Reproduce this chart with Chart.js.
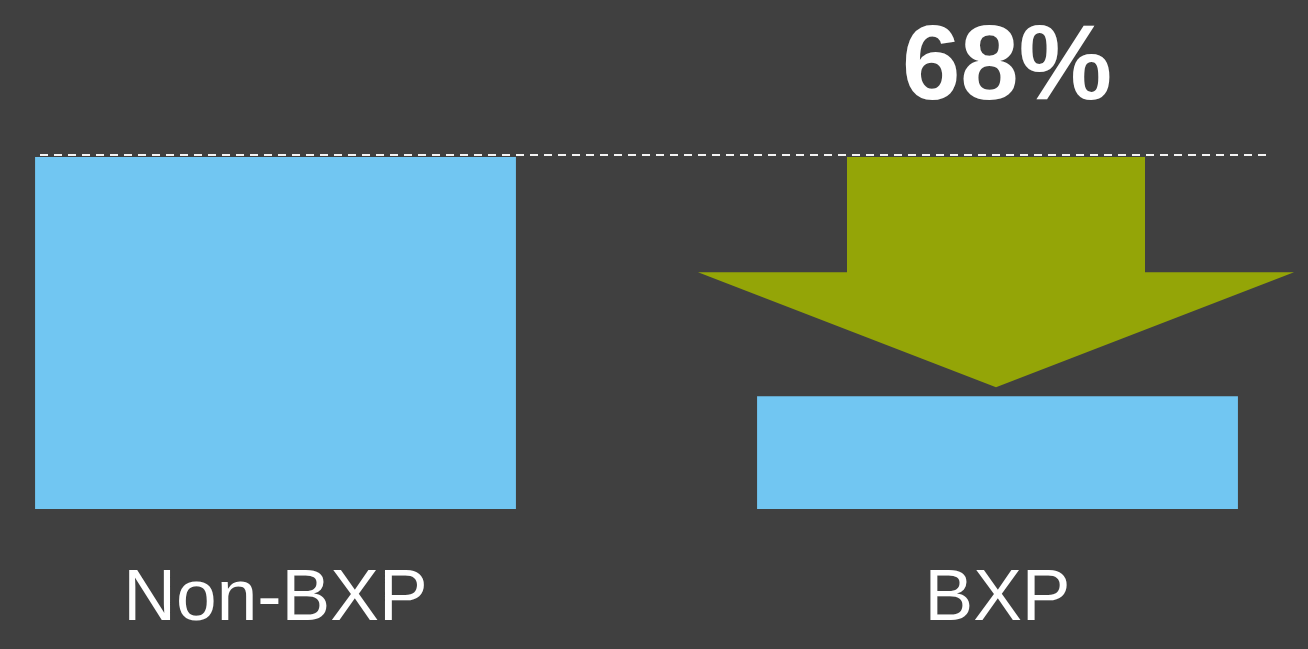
<!DOCTYPE html>
<html lang="en">
<head>
    <meta charset="UTF-8">
    <title>BXP</title>
    <script src="https://cdn.jsdelivr.net/npm/chart.js"></script>
    <style>
        html, body { margin: 0; padding: 0; background: #404040; }
        .box { width: 1308px; height: 649px; }
    </style>
</head>
<body>
    <div class="box">
        <canvas id="chartBxp"></canvas>
    </div>
<script>
    // dados do gráfico
    var categorias = ["Non-BXP", "BXP"];
    var valores = [100, 32];

    var reducao = Math.round((1 - valores[1] / valores[0]) * 100);

    // linha tracejada, seta verde e o texto da redução
    var setaPlugin = {
        id: 'seta',
        afterDatasetsDraw: function (chart) {
            var ctx = chart.ctx;
            var x = chart.scales.x;
            var y = chart.scales.y;
            var topo = y.getPixelForValue(valores[0]);
            var fundo = y.getPixelForValue(valores[1]);
            var cx = x.getPixelForValue(1) - 1.5;

            ctx.save();
            // linha tracejada no nível do maior valor
            ctx.strokeStyle = '#f4f4f4';
            ctx.lineWidth = 2;
            ctx.setLineDash([8, 6]);
            ctx.beginPath();
            ctx.moveTo(40, Math.round(topo) - 2);
            ctx.lineTo(1268, Math.round(topo) - 2);
            ctx.stroke();
            ctx.setLineDash([]);

            // seta para baixo
            var ponta = fundo - 9;
            var cabeca = topo + (ponta - topo) * 0.5;
            ctx.fillStyle = '#94a507';
            ctx.beginPath();
            ctx.moveTo(cx - 149, topo);
            ctx.lineTo(cx + 149, topo);
            ctx.lineTo(cx + 149, cabeca);
            ctx.lineTo(cx + 298, cabeca);
            ctx.lineTo(cx, ponta);
            ctx.lineTo(cx - 298, cabeca);
            ctx.lineTo(cx - 149, cabeca);
            ctx.closePath();
            ctx.fill();

            // texto
            ctx.fillStyle = '#ffffff';
            ctx.font = 'bold 105px "Liberation Sans", Arial, sans-serif';
            ctx.textAlign = 'center';
            ctx.textBaseline = 'alphabetic';
            ctx.fillText(reducao + '%', cx + 11, 99);
            ctx.restore();
        }
    };

    var ctxBxp = document.getElementById("chartBxp").getContext("2d");
    var configBxp = {
        type: 'bar',
        data: {
            labels: categorias,
            datasets: [
                {
                    data: valores,
                    backgroundColor: '#71c6f2',
                    borderWidth: 0,
                    categoryPercentage: 1,
                    barPercentage: 0.666,
                    clip: false
                }
            ]
        },
        options: {
            responsive: true,
            maintainAspectRatio: false,
            animation: false,
            layout: {
                padding: { top: 157, left: 275.5, right: 310.5, bottom: 0 }
            },
            plugins: {
                legend: { display: false },
                tooltip: { enabled: false }
            },
            scales: {
                x: {
                    offset: false,
                    grid: { display: false },
                    border: { display: false },
                    afterFit: function (scale) {
                        scale.height = 140; // altura fixa para o eixo das categorias
                    },
                    ticks: {
                        color: '#ffffff',
                        padding: 39,
                        maxRotation: 0,
                        autoSkip: false,
                        font: { family: '"Liberation Sans", Arial, sans-serif', size: 73 }
                    }
                },
                y: {
                    display: false,
                    min: 0,
                    max: 100
                }
            }
        },
        plugins: [setaPlugin]
    };
    var graficoBxp = new Chart(ctxBxp, configBxp);
</script>
</body>
</html>
